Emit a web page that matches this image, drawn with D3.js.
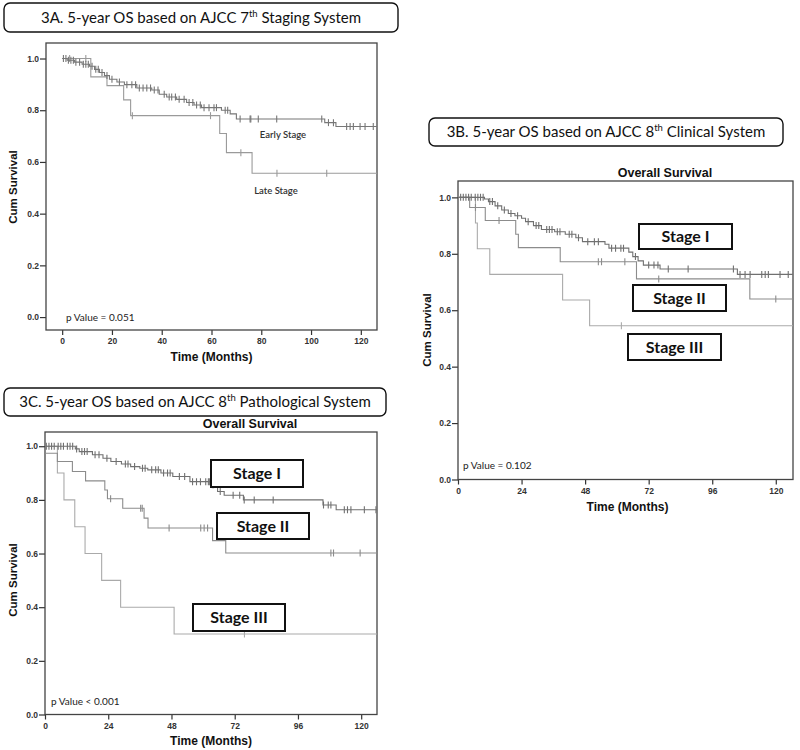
<!DOCTYPE html>
<html><head><meta charset="utf-8">
<script src="https://cdn.jsdelivr.net/npm/d3@7/dist/d3.min.js"></script>
<style>body{margin:0;background:#fff}svg{display:block}</style>
</head><body>
<svg id="chart" width="800" height="750"></svg>
<script>
// ---------- DATA ----------
// Panel A (AJCC 7th)
const aTicksX = [0, 20, 40, 60, 80, 100, 120];
const survTicks = [0.0, 0.2, 0.4, 0.6, 0.8, 1.0];
const aEarlyTime = [0, 2, 5, 8, 11, 13, 15, 17, 19, 22, 25, 30, 36, 39, 42, 46, 50, 53, 56, 64, 67.5, 70, 105.5, 110, 126.5];
const aEarlySurv = [1.0, 0.993, 0.986, 0.978, 0.97, 0.958, 0.946, 0.934, 0.92, 0.909, 0.899, 0.886, 0.878, 0.862, 0.851, 0.842, 0.83, 0.82, 0.81, 0.8, 0.786, 0.766, 0.752, 0.737, 0.737];
const aEarlyCens = [0.5, 1.5, 2.5, 3.5, 4.5, 5.5, 7, 8.5, 9.5, 10.5, 12, 13.5, 14.5, 16, 18, 20, 23, 26, 28, 29.5, 31, 32.5, 34, 35.5, 37, 38.5, 41, 43, 44, 45.5, 47, 49, 51, 52.5, 54, 55.5, 57, 59, 61, 62, 65.5, 66.5, 71.5, 75.5, 75.8, 78.8, 86.2, 104.3, 107, 109, 114.3, 115.7, 117, 119.7, 121.7, 125];
const aLateTime = [0, 11.5, 18, 24.7, 27.5, 63.3, 66, 76.3, 126.5];
const aLateSurv = [1.0, 0.929, 0.895, 0.84, 0.779, 0.71, 0.636, 0.556, 0.556];
const aLateCens = [3, 9.5, 28.2, 59.6, 71.8, 86.3, 106.3];

// Panel B (AJCC 8th clinical)
const bcTicksX = [0, 24, 48, 72, 96, 120];
const bITime = [0, 10, 11.5, 14, 16.5, 19, 21.5, 24, 25.5, 28.5, 31.5, 36.5, 40.5, 44.5, 47, 55.5, 57, 64.5, 66, 68, 70, 76.3, 105.5, 126.5];
const bISurv = [1.0, 0.994, 0.985, 0.97, 0.955, 0.943, 0.935, 0.926, 0.914, 0.9, 0.886, 0.878, 0.869, 0.857, 0.843, 0.834, 0.82, 0.806, 0.79, 0.775, 0.76, 0.746, 0.727, 0.727];
const bICens = [1, 2, 3, 4, 5, 6.5, 7.5, 8.5, 9.5, 12, 13, 15, 17.5, 20, 22.5, 26.5, 29.5, 30.5, 33.5, 34.5, 35.5, 37.5, 38.5, 42, 43, 45.5, 49, 51.5, 53, 58, 59.5, 61.5, 62.5, 67, 72, 74, 75.5, 79.4, 86.9, 104, 106.5, 108.4, 110.3, 114.7, 116, 117.2, 121.6, 124.7];
const bIITime = [0, 4.4, 10.3, 21.8, 22.8, 38.6, 67.4, 110.2, 126.5];
const bIISurv = [1.0, 0.964, 0.918, 0.869, 0.822, 0.772, 0.711, 0.64, 0.64];
const bIICens = [6.6, 15.5, 53, 54.2, 63, 75.8, 120];
const bIIITime = [0, 6.6, 7.3, 12, 39.5, 49.7, 126.5];
const bIIISurv = [1.0, 0.909, 0.818, 0.727, 0.636, 0.545, 0.545];
const bIIICens = [61.7];

// Panel C (AJCC 8th pathological)
const cITime = [0, 11.5, 13, 18, 22, 25, 29, 32.5, 36, 39, 44, 48.5, 55, 63, 65.5, 68, 75.3, 105.5, 110.5, 126];
const cISurv = [1.0, 0.99, 0.98, 0.968, 0.955, 0.943, 0.934, 0.924, 0.918, 0.912, 0.9, 0.887, 0.868, 0.856, 0.831, 0.817, 0.8, 0.781, 0.763, 0.763];
const cICens = [0.5, 1.5, 2.5, 3.5, 5, 6, 7, 8.5, 9.5, 10.5, 12, 14, 15, 16, 19, 20.5, 23.5, 27, 30.5, 31.5, 34, 37, 38, 40.5, 42, 43, 45, 46.5, 47.5, 51, 53, 56, 57.5, 59, 61, 62, 62.5, 63.5, 64, 66.5, 71.4, 73.9, 75.6, 79.4, 86.6, 105.7, 107.5, 108.5, 113.6, 114.8, 116.1, 121.2, 125.6];
const cIITime = [0, 4.7, 10.4, 15.4, 22.7, 23.7, 29.5, 37.6, 39.1, 63.6, 68.6, 126];
const cIISurv = [0.974, 0.943, 0.906, 0.871, 0.837, 0.804, 0.769, 0.732, 0.695, 0.648, 0.602, 0.602];
const cIICens = [24.9, 36.3, 36.9, 47.1, 59.1, 60.4, 61.7, 108.5, 109.5, 119.6];
const cIIITime = [0, 4.7, 7.2, 11.3, 15.2, 21.5, 28.7, 49, 126];
const cIIISurv = [1.0, 0.9, 0.8, 0.7, 0.6, 0.5, 0.4, 0.3, 0.3];
const cIIICens = [75.7];

// ---------- DRAW ----------
const svg = d3.select("#chart");
const tickFont = "'Liberation Sans', Arial, sans-serif";
const calFont = "Lato, 'Open Sans', sans-serif";

function titleBox(x0, y0, x1, y1, parts) {
  svg.append("rect").attr("x", x0).attr("y", y0).attr("width", x1 - x0).attr("height", y1 - y0)
    .attr("rx", 6).attr("fill", "#fff").attr("stroke", "#111").attr("stroke-width", 1.4);
  const t = svg.append("text").attr("x", (x0 + x1) / 2).attr("y", (y0 + y1) / 2 + 5)
    .attr("text-anchor", "middle").attr("font-family", calFont).attr("font-size", 15).attr("fill", "#111");
  t.append("tspan").text(parts[0]);
  t.append("tspan").attr("font-size", 9.5).attr("dy", -6).text(parts[1]);
  t.append("tspan").attr("dy", 6).text(parts[2]);
}

function panel(cfg) {
  const x = d3.scaleLinear().domain(cfg.xDom).range([cfg.left, cfg.right]);
  const y = d3.scaleLinear().domain(cfg.yDom).range([cfg.bottom, cfg.top]);
  const g = svg.append("g");
  const clipId = "clip" + cfg.id;
  svg.append("clipPath").attr("id", clipId).append("rect")
    .attr("x", cfg.left).attr("y", cfg.top - 6).attr("width", cfg.right - cfg.left + 4).attr("height", cfg.bottom - cfg.top + 6);

  // axes
  const yAxis = d3.axisLeft(y).tickValues(survTicks).tickFormat(d3.format(".1f")).tickSize(6).tickPadding(1);
  const ya = g.append("g").attr("transform", `translate(${cfg.left},0)`).call(yAxis);
  const xAxis = d3.axisBottom(x).tickValues(cfg.xTicks).tickSize(5).tickPadding(3);
  const xa = g.append("g").attr("transform", `translate(0,${cfg.bottom})`).call(xAxis);
  [ya, xa].forEach(a => {
    a.select(".domain").remove();
    a.selectAll("line").attr("stroke", "#333").attr("stroke-width", 1.2);
    a.selectAll("text").attr("font-family", tickFont).attr("font-size", 8.5).attr("font-weight", "bold").attr("fill", "#333");
  });
  // frame
  g.append("rect").attr("x", cfg.left).attr("y", cfg.top).attr("width", cfg.right - cfg.left).attr("height", cfg.bottom - cfg.top)
    .attr("fill", "none").attr("stroke", "#444").attr("stroke-width", 1.3);

  // curves
  const line = d3.line().x(d => x(d[0])).y(d => y(d[1])).curve(d3.curveStepAfter);
  const cg = g.append("g").attr("clip-path", `url(#${clipId})`);
  cfg.series.forEach(s => {
    const pts = s.time.map((t, i) => [t, s.surv[i]]);
    cg.append("path").attr("d", line(pts)).attr("fill", "none").attr("stroke", s.color).attr("stroke-width", 1.1);
    const stepAt = t => { let v = s.surv[0]; s.time.forEach((tt, i) => { if (tt <= t) v = s.surv[i]; }); return v; };
    cg.selectAll(null).data(s.cens).join("line")
      .attr("x1", d => x(d)).attr("x2", d => x(d))
      .attr("y1", d => y(stepAt(d)) - 3.5).attr("y2", d => y(stepAt(d)) + 3.5)
      .attr("stroke", s.color).attr("stroke-width", 1.1);
  });

  // axis titles
  g.append("text").attr("x", (x(cfg.xDom[0]) + x(cfg.xDom[1])) / 2 + cfg.xLabelDx).attr("y", cfg.xLabelY)
    .attr("text-anchor", "middle").attr("font-family", tickFont).attr("font-weight", "bold").attr("font-size", 12).attr("fill", "#111")
    .text("Time (Months)");
  g.append("text").attr("transform", `translate(${cfg.yLabelX},${cfg.yLabelCY}) rotate(-90)`)
    .attr("text-anchor", "middle").attr("font-family", tickFont).attr("font-weight", "bold").attr("font-size", 11.5).attr("fill", "#111")
    .text("Cum Survival");
  if (cfg.overall) {
    g.append("text").attr("x", cfg.overall[0]).attr("y", cfg.overall[1]).attr("text-anchor", "middle")
      .attr("font-family", tickFont).attr("font-weight", "bold").attr("font-size", 12.5).attr("fill", "#111").text("Overall Survival");
  }
  g.append("text").attr("x", cfg.pval[0]).attr("y", cfg.pval[1]).attr("font-family", calFont).attr("font-size", 10).attr("fill", "#222")
    .text(cfg.pval[2]);
  (cfg.labels || []).forEach(l => {
    g.append("text").attr("x", l[0]).attr("y", l[1]).attr("text-anchor", "middle").attr("font-family", calFont)
      .attr("font-size", 9.5).attr("font-weight", "600").attr("fill", "#333").text(l[2]);
  });
  (cfg.boxes || []).forEach(b => {
    g.append("rect").attr("x", b[0]).attr("y", b[1]).attr("width", b[2] - b[0]).attr("height", b[3] - b[1])
      .attr("fill", "#fff").attr("stroke", "#111").attr("stroke-width", 2);
    g.append("text").attr("x", (b[0] + b[2]) / 2).attr("y", (b[1] + b[3]) / 2 + 5.5).attr("text-anchor", "middle")
      .attr("font-family", calFont).attr("font-weight", "bold").attr("font-size", 16).attr("fill", "#111").text(b[4]);
  });
}

titleBox(4, 3, 398, 32, ["3A. 5-year OS based on AJCC 7", "th", " Staging System"]);
titleBox(429, 118, 783, 146, ["3B. 5-year OS based on AJCC 8", "th", " Clinical System"]);
titleBox(4, 388, 386, 416, ["3C. 5-year OS based on AJCC 8", "th", " Pathological System"]);

panel({
  id: "A", xDom: [-6.5, 126.5], yDom: [-0.05, 1.06], left: 46, right: 377, top: 43, bottom: 330, xTicks: aTicksX,
  xLabelY: 361, xLabelDx: 0, yLabelX: 17, yLabelCY: 187,
  pval: [66, 321, "p Value = 0.051"],
  labels: [[283, 138, "Early Stage"], [276, 194, "Late Stage"]],
  series: [
    { time: aLateTime, surv: aLateSurv, cens: aLateCens, color: "#9a9a9a" },
    { time: aEarlyTime, surv: aEarlySurv, cens: aEarlyCens, color: "#777" }
  ]
});

panel({
  id: "B", xDom: [0, 126.5], yDom: [0, 1.058], left: 458, right: 793, top: 181, bottom: 479.5, xTicks: bcTicksX,
  xLabelY: 511, xLabelDx: 2, yLabelX: 431, yLabelCY: 330, overall: [665, 177],
  pval: [463, 469, "p Value = 0.102"],
  boxes: [[639, 224, 732, 249, "Stage I"], [633, 285, 726, 311, "Stage II"], [628, 334, 721, 360, "Stage III"]],
  series: [
    { time: bIIITime, surv: bIIISurv, cens: bIIICens, color: "#aaa" },
    { time: bIITime, surv: bIISurv, cens: bIICens, color: "#8c8c8c" },
    { time: bITime, surv: bISurv, cens: bICens, color: "#707070" }
  ]
});

panel({
  id: "C", xDom: [0, 126], yDom: [0, 1.053], left: 45, right: 377, top: 432, bottom: 714.5, xTicks: bcTicksX,
  xLabelY: 745, xLabelDx: 0, yLabelX: 17, yLabelCY: 580, overall: [250, 428],
  pval: [51, 705, "p Value < 0.001"],
  boxes: [[211, 460, 303, 487, "Stage I"], [217, 513, 309, 539, "Stage II"], [193, 604, 285, 631, "Stage III"]],
  series: [
    { time: cIIITime, surv: cIIISurv, cens: cIIICens, color: "#aaa" },
    { time: cIITime, surv: cIISurv, cens: cIICens, color: "#8c8c8c" },
    { time: cITime, surv: cISurv, cens: cICens, color: "#707070" }
  ]
});
</script>
</body></html>
